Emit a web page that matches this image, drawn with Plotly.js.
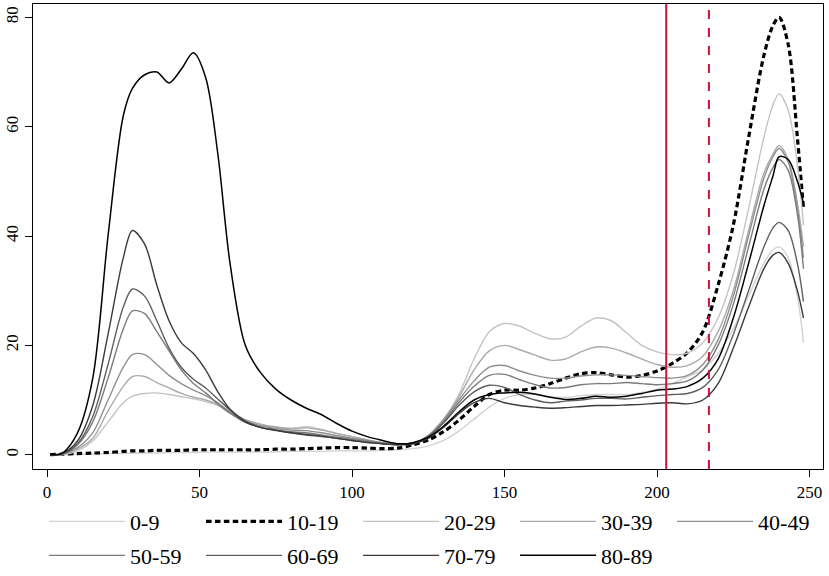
<!DOCTYPE html>
<html>
<head>
<meta charset="utf-8">
<script src="https://cdn.plot.ly/plotly-3.0.1.min.js"></script>
<style>
html,body{margin:0;padding:0;background:#fff;}
#chart{width:829px;height:576px;}
</style>
</head>
<body>
<div id="chart"></div>
<script>
// ---- data ----
const xDays = [1,5,10,15,20,25,28,32,36,40,44,48,52,56,60,65,70,75,80,85,90,95,100,105,110,115,120,125,130,135,140,145,150,155,160,165,170,175,180,185,190,195,200,205,210,215,220,225,230,235,238,240,243,246,248];

const ageGroups = ["0-9","10-19","20-29","30-39","40-49","50-59","60-69","70-79","80-89"];

const age0_9 = [0,0,0.1,0.1,0.2,0.2,0.3,0.3,0.3,0.4,0.4,0.4,0.5,0.5,0.5,0.5,0.5,0.5,0.6,0.6,0.6,0.7,0.7,0.7,0.8,0.9,1.1,1.6,2.6,4.3,6.5,8.7,10.3,11,11,10.6,10.5,10.8,11,11,11,11.4,12,13,14.3,15.5,18.5,23,29,35,37.5,38,36,29,20.5];
const age10_19 = [0,0.1,0.2,0.3,0.4,0.6,0.7,0.7,0.8,0.8,0.8,0.9,0.9,0.9,0.9,0.9,0.9,1.0,1.0,1.1,1.2,1.3,1.3,1.2,1.1,1.2,1.8,2.7,4.2,6.3,8.8,11,11.8,11.8,12.2,13,14,14.8,15,14.6,14.2,14.5,15.3,16.7,18.7,22.5,31,42,58,73,78.5,80,75,58,45];
const age20_29 = [0,0,0.7,2.5,6,9.5,10.7,11.2,11.3,11,10.6,10.2,9.7,9,7.6,6.3,5.5,5,4.8,5.1,4.6,3.9,3.3,2.7,2.2,1.9,2,3.5,6.5,11,17.5,22.5,24,23.5,22.2,21.2,21.5,23.5,25,24.5,22.3,20,18.8,18.3,18.6,20.5,25,33,45,58,64,66,63,53,42];
const age30_39 = [0,0,1,3,8,12.5,14.3,14.3,13.2,12.2,11.2,10.5,10,9.2,7.9,6.4,5.6,5.1,4.8,4.9,4.5,3.9,3.3,2.7,2.2,1.9,2,3.5,6.5,10.5,15.5,19,20,19.2,18.2,17.3,17.5,18.8,19.7,19.5,18.6,17.5,16.5,16,16.3,18,22.5,30,41,51.5,55,56.5,54,46,38];
const age40_49 = [0,0.1,1.3,4,10,16,18.3,18.3,16.5,14.5,13,11.8,10.8,9.5,7.8,6.2,5.3,4.8,4.5,4.4,4,3.5,3,2.6,2.2,1.9,2.1,3.5,6.3,10,13.5,16,16.3,15.3,14.5,14,14,14.4,14.6,14.6,14.5,14.3,14.1,14,14.5,16.5,21,29,40,50.5,54.5,56,53.5,45,36];
const age50_59 = [0,0.1,1.8,6,14,23,26.3,25.8,22.5,19,15.5,13,11.3,9.3,7.6,5.9,5,4.5,4.2,4,3.6,3.2,2.8,2.4,2.1,1.9,2.1,3.3,6,9.5,12.5,14.5,14.7,13.7,12.8,12.2,12.3,12.8,13,13,13.2,13,12.8,13,13.5,15.5,20,27.5,38,48.5,52.5,54,52,44,34];
const age60_69 = [0,0.1,2,7,16.5,27,30.3,29,24.5,19.5,16,13.8,12.2,10.2,8.2,6.2,5,4.4,4,3.6,3.3,3,2.6,2.3,2,1.8,2.2,3.3,5.8,9,11.5,12.7,12.3,11,10,9.5,9.8,10,10.3,10.3,10.2,10.5,10.8,11,11.2,12.3,15.5,22,30,38,41.5,42.5,41,35,28];
const age70_79 = [0,0.2,2.5,9,22,36,41,38.5,31,24.5,20.5,18.5,15.5,11.5,8.3,6,5,4.5,4,3.7,3.4,3,2.6,2.2,2,1.8,2,3,5,7.5,9.5,10.3,9.5,9,8.7,8.5,8.6,8.8,9,9,9.1,9.2,9.4,9.5,9.3,10,13,19.5,27,34,36.5,37,35,30,25];
const age80_89 = [0,0.3,4,14,40,62,67,69.5,70,68,70.5,73.5,69,55,35,20,15,12,10,8.5,7.3,5.7,4.3,3.3,2.6,2.0,2.2,3.2,5.2,7.8,10,11,11.3,11.4,11.1,10.5,10.1,10.3,10.7,10.5,10.7,11.2,11.8,12,12.5,14,17.5,25,35,45.5,51,54.5,54,50,46];

const seriesValues = [age0_9, age10_19, age20_29, age30_39, age40_49, age50_59, age60_69, age70_79, age80_89];

const xTicks = [0,50,100,150,200,250];
const yTicks = [0,20,40,60,80];
const markerDays = [203, 217];   // solid and dashed red reference lines

// ---- styles ----
const lineColors = ["#d2d2d2","#000000","#c4c4c4","#ababab","#8f8f8f","#7b7b7b","#5f5f5f","#3a3a3a","#000000"];
const lineWidths = [1.4,3.2,1.4,1.4,1.4,1.4,1.4,1.4,1.5];
const lineDash = ["solid","5.5px,3.4px","solid","solid","solid","solid","solid","solid","solid"];
const legendRow = ["legend","legend","legend","legend","legend","legend2","legend2","legend2","legend2"];
const markerDash = ["solid","dash"];

const traces = ageGroups.map((name,i)=>({
  x: xDays,
  y: seriesValues[i],
  name: name,
  legend: legendRow[i],
  type: "scatter",
  mode: "lines",
  line: {color: lineColors[i], width: lineWidths[i], dash: lineDash[i], shape: "spline", smoothing: 0.9},
  hoverinfo: "skip"
}));

const shapes = markerDays.map((d,i)=>({
  type: "line", xref: "x", yref: "paper", x0: d, x1: d, y0: 0, y1: 1,
  line: {color: "#d0103a", width: 2, dash: markerDash[i]}
}));

const serif = "Liberation Serif, Times New Roman, serif";
const legendBase = {
  orientation: "h", xanchor: "left", yanchor: "top",
  entrywidth: 66, entrywidthmode: "pixels", itemwidth: 76,
  font: {family: serif, size: 22, color: "#000"},
  bgcolor: "rgba(0,0,0,0)", borderwidth: 0
};

const layout = {
  width: 829, height: 576,
  margin: {l: 33, r: 6, t: 4, b: 107, autoexpand: false},
  paper_bgcolor: "#fff", plot_bgcolor: "#fff",
  font: {family: serif, size: 17, color: "#000"},
  showlegend: true,
  legend: Object.assign({}, legendBase, {x: 0.014, y: -0.068}),
  legend2: Object.assign({}, legendBase, {x: 0.014, y: -0.141}),
  xaxis: {
    range: [-4.6, 254.4], tickvals: xTicks, ticktext: xTicks.map(String),
    showgrid: false, zeroline: false, showline: true, mirror: true, linecolor: "#000", linewidth: 1.3,
    ticks: "outside", ticklen: 7, tickwidth: 1, tickcolor: "#000",
    tickfont: {family: serif, size: 17}
  },
  yaxis: {
    range: [-2.62, 82.44], tickvals: yTicks, ticktext: yTicks.map(String),
    showgrid: false, zeroline: false, showline: true, mirror: true, linecolor: "#000", linewidth: 1.3,
    ticks: "outside", ticklen: 7, tickwidth: 1, tickcolor: "#000", tickangle: -90,
    tickfont: {family: serif, size: 17}
  },
  shapes: shapes
};

Plotly.newPlot("chart", traces, layout, {displayModeBar: false, staticPlot: true});
</script>
</body>
</html>
